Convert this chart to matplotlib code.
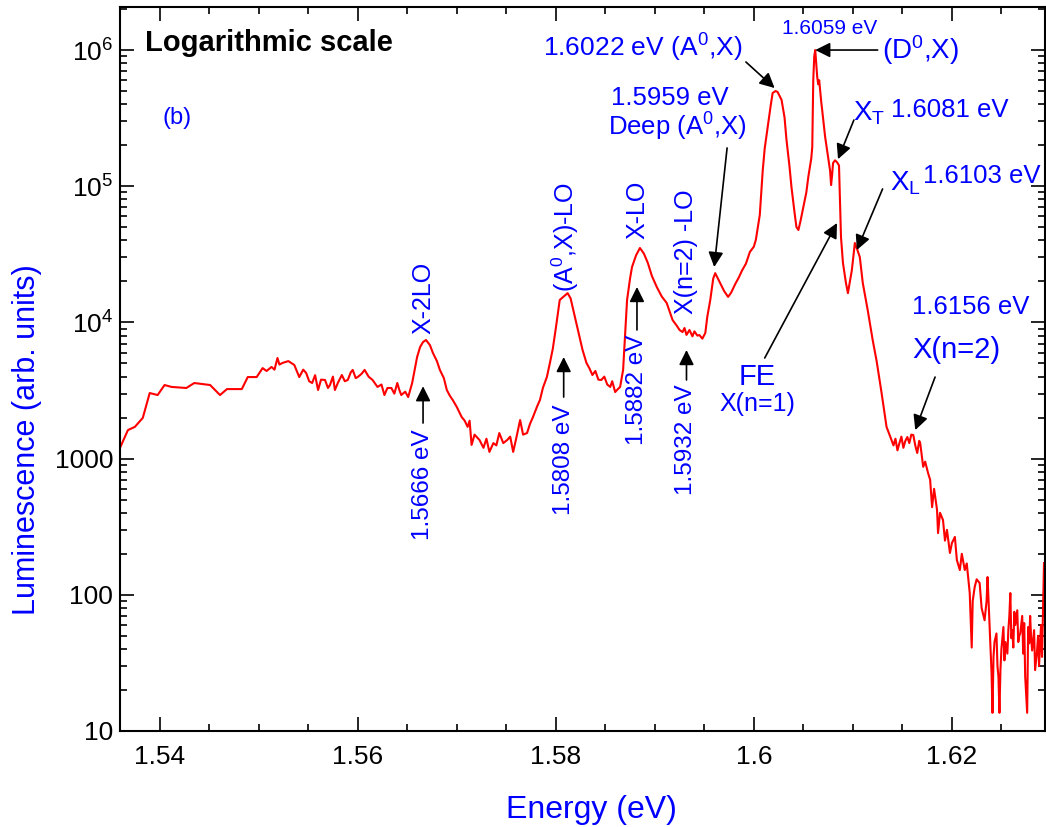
import numpy as np
import matplotlib.pyplot as plt
from matplotlib.ticker import FixedLocator, FixedFormatter, MultipleLocator, LogLocator, NullFormatter

plt.rcParams["font.family"] = ["Liberation Sans", "DejaVu Sans"]
plt.rcParams["mathtext.fontset"] = "custom"
plt.rcParams["mathtext.rm"] = "Liberation Sans"
plt.rcParams["mathtext.it"] = "Liberation Sans:italic"
plt.rcParams["mathtext.bf"] = "Liberation Sans:bold"

# === Spectrum: energy (eV) and luminescence (arb. units) ===
energy = [
    1.5360, 1.5368, 1.5375, 1.5383, 1.5390, 1.5398, 1.5405, 1.5412, 1.5427, 1.5435,
    1.5451, 1.5461, 1.5468, 1.5483, 1.5489, 1.5498, 1.5504, 1.5508, 1.5513, 1.5516,
    1.5519, 1.5521, 1.5524, 1.5530, 1.5536, 1.5541, 1.5545, 1.5548, 1.5551, 1.5554,
    1.5557, 1.5560, 1.5563, 1.5567, 1.5570, 1.5572, 1.5575, 1.5577, 1.5580, 1.5584,
    1.5587, 1.5590, 1.5593, 1.5595, 1.5598, 1.5600, 1.5604, 1.5607, 1.5611, 1.5615,
    1.5620, 1.5624, 1.5627, 1.5630, 1.5634, 1.5637, 1.5640, 1.5642, 1.5644, 1.5648,
    1.5651, 1.5655, 1.5660, 1.5663, 1.5666, 1.5669, 1.5673, 1.5676, 1.5680, 1.5683,
    1.5687, 1.5690, 1.5693, 1.5696, 1.5700, 1.5705, 1.5708, 1.5711, 1.5713, 1.5715,
    1.5718, 1.5723, 1.5727, 1.5730, 1.5733, 1.5737, 1.5740, 1.5743, 1.5747, 1.5751,
    1.5754, 1.5757, 1.5760, 1.5764, 1.5767, 1.5771, 1.5774, 1.5777, 1.5781, 1.5784,
    1.5787, 1.5791, 1.5794, 1.5797, 1.5800, 1.5804, 1.5808, 1.5812, 1.5815, 1.5817,
    1.5820, 1.5824, 1.5827, 1.5831, 1.5834, 1.5837, 1.5840, 1.5843, 1.5846, 1.5849,
    1.5852, 1.5855, 1.5857, 1.5860, 1.5862, 1.5865, 1.5868, 1.5870, 1.5872, 1.5875,
    1.5877, 1.5881, 1.5885, 1.5889, 1.5893, 1.5897, 1.5902, 1.5907, 1.5912, 1.5915,
    1.5918, 1.5922, 1.5925, 1.5928, 1.5930, 1.5932, 1.5935, 1.5938, 1.5940, 1.5943,
    1.5945, 1.5948, 1.5951, 1.5953, 1.5956, 1.5959, 1.5961, 1.5963, 1.5966, 1.5970,
    1.5974, 1.5977, 1.5981, 1.5985, 1.5988, 1.5992, 1.5996, 1.6000, 1.6002, 1.6004,
    1.6006, 1.6009, 1.6011, 1.6014, 1.6017, 1.6019, 1.6022, 1.6024, 1.6026, 1.6028,
    1.6031, 1.6033, 1.6036, 1.6038, 1.6041, 1.6043, 1.6045, 1.6047, 1.6050, 1.6053,
    1.6055, 1.6058, 1.6059, 1.6060, 1.6061, 1.6062, 1.6063, 1.6064, 1.6065, 1.6066,
    1.6068, 1.6069, 1.6072, 1.6075, 1.6077, 1.6078, 1.6079, 1.6080, 1.6082, 1.6084,
    1.6086, 1.6087, 1.6088, 1.6090, 1.6093, 1.6095, 1.6097, 1.6099, 1.6102, 1.6104,
    1.6107, 1.6110, 1.6113, 1.6115, 1.6120, 1.6124, 1.6129, 1.6134, 1.6137, 1.6139,
    1.6141, 1.6143, 1.6145, 1.6147, 1.6149, 1.6151, 1.6153, 1.6155, 1.6157, 1.6159,
    1.6161, 1.6163, 1.6165, 1.6167, 1.6168, 1.6170, 1.6171, 1.6173, 1.6176, 1.6178,
    1.6180, 1.6182, 1.6185, 1.6186, 1.6188, 1.6191, 1.6193, 1.6195, 1.6198, 1.6200,
    1.6203, 1.6205, 1.6208, 1.6210, 1.6213, 1.6215, 1.6218, 1.6220, 1.6221, 1.6223,
    1.6225, 1.6228, 1.6230, 1.6233, 1.6235, 1.6236, 1.6238, 1.6240, 1.6241, 1.6242,
    1.6243, 1.6245, 1.6246, 1.6247, 1.6248, 1.6249, 1.6250, 1.6252, 1.6253, 1.6254,
    1.6256, 1.6257, 1.6258, 1.6259, 1.6260, 1.6261, 1.6262, 1.6263, 1.6264, 1.6266,
    1.6267, 1.6268, 1.6269, 1.6271, 1.6272, 1.6273, 1.6274, 1.6276, 1.6277, 1.6278,
    1.6279, 1.6280, 1.6281, 1.6283, 1.6284, 1.6286, 1.6287, 1.6288, 1.6290, 1.6291,
    1.6292, 1.6293,
]
intensity = [
    1200, 1620, 1710, 1990, 3030, 2930, 3470, 3360, 3300, 3590,
    3470, 2930, 3240, 3240, 3970, 3970, 4620, 4400, 4710, 4500,
    5480, 4900, 5040, 5200, 4870, 3970, 4500, 4250, 3700, 3590,
    4100, 3190, 3800, 3780, 3300, 3470, 4000, 3190, 3600, 4110,
    3700, 3780, 4300, 4480, 3900, 3970, 4200, 4480, 4000, 3780,
    3360, 3500, 2930, 3300, 3300, 3000, 3590, 3200, 2930, 3100,
    2830, 3590, 5570, 6590, 7180, 7430, 6800, 5960, 5200, 4480,
    3900, 3190, 2900, 2690, 2400, 2020, 1900, 1710, 1900, 1260,
    1500, 1370, 1200, 1400, 1120, 1300, 1250, 1540, 1300, 1370,
    1450, 1120, 1400, 1920, 1500, 1540, 1800, 2020, 2400, 2690,
    3300, 3970, 5000, 6400, 9000, 14600, 15500, 16400, 15000, 12970,
    10500, 7810, 6300, 5040, 4600, 4110, 4400, 3800, 3780, 4000,
    3500, 3360, 3700, 3080, 3200, 3360, 4480, 8000, 14600, 21000,
    25500, 31000, 35200, 32000, 27300, 22000, 18200, 15500, 13900, 12000,
    10400, 9500, 8800, 8500, 9100, 8100, 8800, 7900, 8600, 8000,
    8080, 7600, 8360, 11000, 14600, 21000, 23000, 21500, 19500, 17000,
    15400, 16500, 19000, 21500, 24000, 27000, 32900, 36000, 40300, 50000,
    61500, 131000, 190000, 272000, 390000, 484000, 500000, 492000, 460000, 430000,
    320000, 218000, 140000, 98600, 65000, 50200, 47700, 55000, 70300, 90000,
    117000, 160000, 194000, 602000, 900000, 1000000, 800000, 634000, 560000, 600000,
    420000, 363000, 230000, 164000, 130000, 102000, 120000, 148000, 155000, 150000,
    142000, 80000, 42400, 27300, 19500, 16400, 20000, 24300, 38300, 35000,
    30200, 19500, 14800, 12300, 7430, 5200, 3030, 1710, 1500, 1370,
    1250, 1400, 1150, 1300, 1450, 1200, 1350, 1440, 1300, 1500,
    1490, 1250, 1100, 1350, 1300, 1000, 870, 950, 780, 700,
    440, 600, 420, 284, 400, 354, 250, 300, 203, 240,
    266, 180, 152, 200, 152, 170, 103, 41, 90, 114,
    130, 122, 80, 65, 90, 135, 60, 27, 13.6, 35,
    45, 52, 30, 25, 13.6, 28, 40, 58, 33, 45,
    37, 55, 70, 103, 48, 55, 41, 75, 60, 77,
    45, 50, 52, 70, 37, 62, 25, 13.6, 58, 44,
    70, 48, 39, 55, 28, 39, 50, 30, 60, 35,
    81, 171,
]

# === Axis ticks ===
y_ticks = [10, 100, 1000, 1e4, 1e5, 1e6]
y_tick_labels = ["10", "100", "1000", "$10^{4}$", "$10^{5}$", "$10^{6}$"]
x_ticks = [1.54, 1.56, 1.58, 1.6, 1.62]
x_tick_labels = ["1.54", "1.56", "1.58", "1.6", "1.62"]

BLUE = "#0000ff"

fig = plt.figure(figsize=(10.46, 8.27), dpi=100)
ax = fig.add_axes([120 / 1046, 1 - 731 / 827, 925 / 1046, 724 / 827])

ax.plot(energy, intensity, color="red", lw=1.5)

ax.set_yscale("log")
ax.set_xlim(1.5360, 1.6294)
ax.set_ylim(10, 2.07e6)

ax.yaxis.set_major_locator(FixedLocator(y_ticks))
ax.yaxis.set_major_formatter(FixedFormatter(y_tick_labels))
ax.yaxis.set_minor_locator(LogLocator(base=10, subs=np.arange(2, 10), numticks=20))
ax.yaxis.set_minor_formatter(NullFormatter())
ax.xaxis.set_major_locator(FixedLocator(x_ticks))
ax.xaxis.set_major_formatter(FixedFormatter(x_tick_labels))
ax.xaxis.set_minor_locator(MultipleLocator(0.005))

ax.tick_params(which="both", direction="in", top=True, right=True, width=1.2, colors="black")
ax.tick_params(which="major", length=10, labelsize=19)
ax.tick_params(which="minor", length=5)
ax.tick_params(axis="x", which="major", pad=10)
ax.tick_params(axis="y", which="major", pad=5)
for s in ax.spines.values():
    s.set_linewidth(1.5)

ax.set_xlabel("Energy (eV)", color=BLUE, fontsize=23)
ax.set_ylabel("Luminescence (arb. units)", color=BLUE, fontsize=22)
ax.xaxis.set_label_coords(0.510, -0.088)
ax.yaxis.set_label_coords(-0.084, 0.403)

ax.text(0.027, 0.950, "Logarithmic scale", transform=ax.transAxes, fontsize=21,
        fontweight="bold", color="black", va="center", ha="left")
ax.text(0.046, 0.847, "(b)", transform=ax.transAxes, fontsize=17, color=BLUE,
        va="center", ha="left")

arrow = dict(arrowstyle="-|>,head_length=0.6,head_width=0.3", color="black",
             lw=1.2, mutation_scale=15, shrinkA=0, shrinkB=0)


def arr(tail, head):
    ax.annotate("", xy=head, xytext=tail, arrowprops=arrow)


def lbl(x, y, s, size=18, rot=0, ha="center"):
    ax.text(x, y, s, color=BLUE, fontsize=size, rotation=rot, ha=ha, va="center")


# phonon replicas: vertical arrows with rotated labels
arr((1.5666, 1825), (1.5666, 3400))
lbl(1.5666, 640, "1.5666 eV", 17.5, 90)
lbl(1.5666, 15100, "X-2LO", 18, 90)

arr((1.5808, 2830), (1.5808, 5570))
lbl(1.5808, 980, "1.5808 eV", 17.5, 90)
lbl(1.5810, 42400, "(A$^{0}$,X)-LO", 18, 90)

arr((1.5882, 8800), (1.5882, 18200))
lbl(1.5882, 3190, "1.5882 eV", 17.5, 90)
lbl(1.5882, 66900, "X-LO", 18, 90)

arr((1.5932, 3780), (1.5932, 6270))
lbl(1.5932, 1370, "1.5932 eV", 17.5, 90)
lbl(1.5932, 32900, "X(n=2) -LO", 18, 90)

# bound and free exciton lines
lbl(1.5915, 444000, "1.5959 eV", 18.5)
lbl(1.5923, 272000, "Deep (A$^{0}$,X)", 18.5)
arr((1.5973, 191000), (1.5960, 25500))

lbl(1.5888, 1.035e6, "1.6022 eV (A$^{0}$,X)", 19)
arr((1.5992, 817000), (1.6021, 526000))

lbl(1.6077, 1.45e6, "1.6059 eV", 15)
lbl(1.6168, 1.0e6, "(D$^{0}$,X)", 20)
arr((1.6125, 1.0e6), (1.6062, 1.0e6))

lbl(1.6100, 344000, "X$_{\\mathrm{T}}$", 20, ha="left")
lbl(1.6139, 362000, "1.6081 eV", 18.5, ha="left")
arr((1.6101, 306000), (1.6085, 158000))

lbl(1.6137, 105500, "X$_{\\mathrm{L}}$", 20, ha="left")
lbl(1.6171, 119000, "1.6103 eV", 18.5, ha="left")
arr((1.6130, 95500), (1.6104, 34000))

lbl(1.6003, 3970, "FE", 21)
lbl(1.6004, 2520, "X(n=1)", 18)
arr((1.6011, 5480), (1.6084, 53700))

lbl(1.6160, 13000, "1.6156 eV", 18.5, ha="left")
lbl(1.6160, 6270, "X(n=2)", 21, ha="left")
arr((1.6183, 3970), (1.6163, 1620))

plt.savefig("out.png", dpi=100)
